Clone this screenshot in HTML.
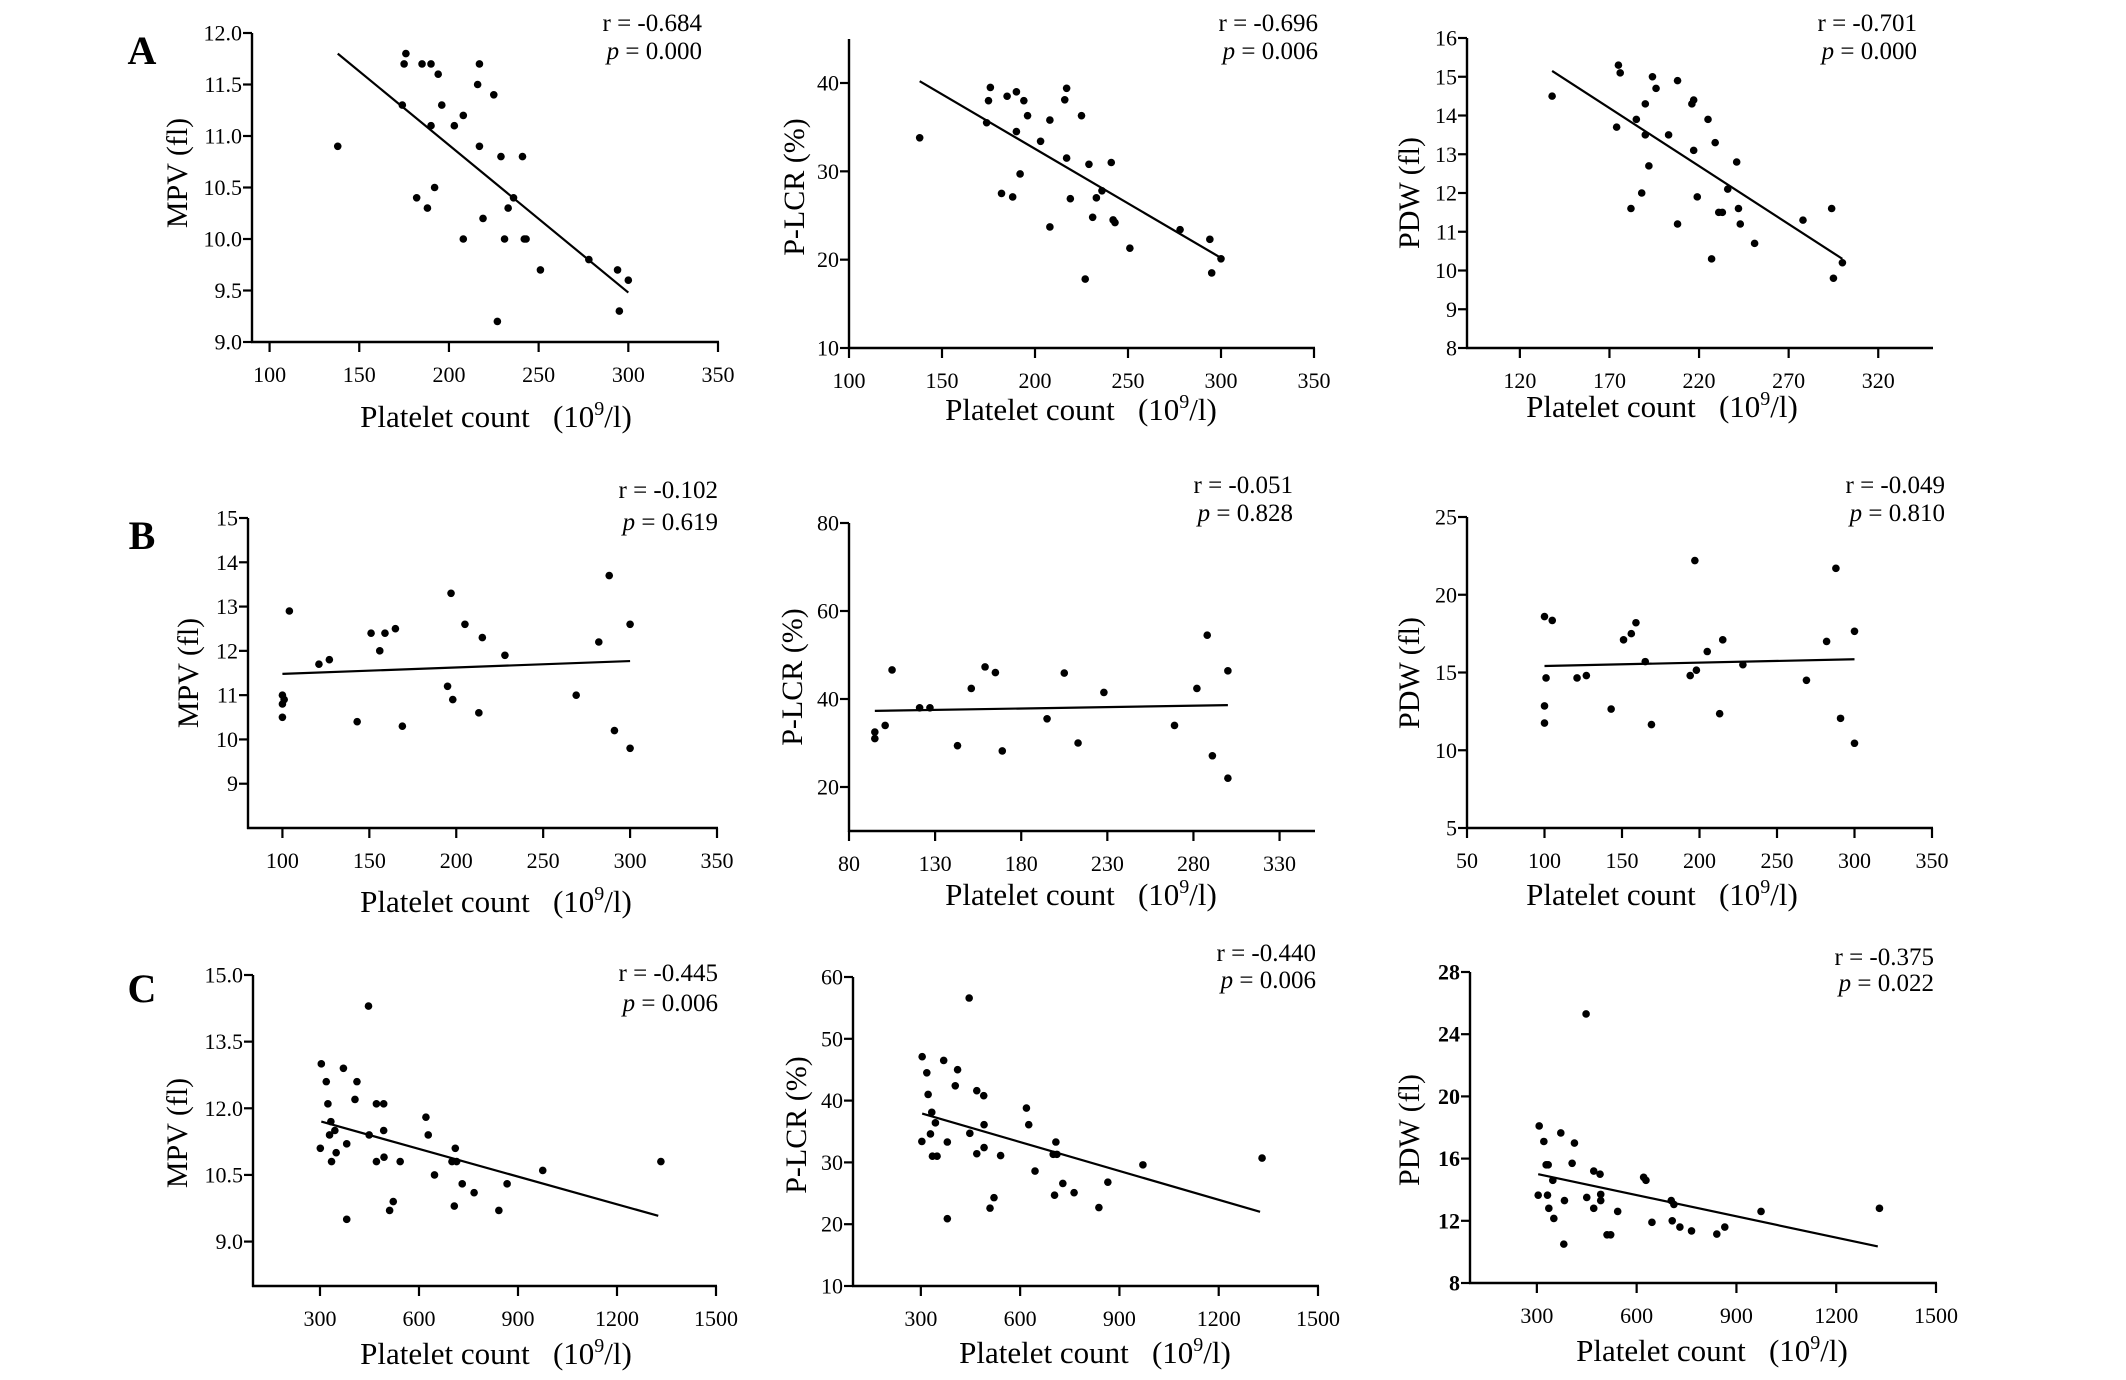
<!DOCTYPE html>
<html><head><meta charset="utf-8"><style>
html,body{margin:0;padding:0;background:#fff;}
svg{display:block;font-family:"Liberation Serif","Times New Roman",serif;}
</style></head><body>
<svg id="fig" width="2126" height="1380" viewBox="0 0 2126 1380" xmlns="http://www.w3.org/2000/svg">
<rect width="2126" height="1380" fill="#fff"/>
<text x="142" y="64" font-size="40" font-weight="bold" text-anchor="middle">A</text>
<text x="142" y="549" font-size="40" font-weight="bold" text-anchor="middle">B</text>
<text x="142" y="1002" font-size="40" font-weight="bold" text-anchor="middle">C</text>
</svg>
<script>
// ---- data ----
const a1X=[138,176,175,185,190,194,174,196,190,208,203,217,216,225,217,229,241,192,182,188,236,233,219,208,231,242,243,251,278,294,300,295,227];
const a1Y=[10.9,11.8,11.7,11.7,11.7,11.6,11.3,11.3,11.1,11.2,11.1,11.7,11.5,11.4,10.9,10.8,10.8,10.5,10.4,10.3,10.4,10.3,10.2,10.0,10.0,10.0,10.0,9.7,9.8,9.7,9.6,9.3,9.2];
const a1Fit=[138,11.8,300,9.48];
const a2X=[138,174,175,176,185,190,194,196,190,192,182,188,208,203,216,217,225,217,229,241,236,233,219,231,242,243,208,251,227,278,294,295,300];
const a2Y=[33.8,35.5,38.0,39.5,38.5,39.0,38.0,36.3,34.5,29.7,27.5,27.1,35.8,33.4,38.1,39.4,36.3,31.5,30.8,31.0,27.8,27.0,26.9,24.8,24.5,24.2,23.7,21.3,17.8,23.4,22.3,18.5,20.1];
const a2Fit=[138,40.2,300,20.2];
const a3X=[138,175,176,174,185,190,190,192,188,182,194,196,203,208,208,216,217,217,219,225,229,227,231,233,236,241,242,243,251,278,294,295,300];
const a3Y=[14.5,15.3,15.1,13.7,13.9,14.3,13.5,12.7,12.0,11.6,15.0,14.7,13.5,14.9,11.2,14.3,14.4,13.1,11.9,13.9,13.3,10.3,11.5,11.5,12.1,12.8,11.6,11.2,10.7,11.3,11.6,9.8,10.2];
const a3Fit=[138,15.15,300,10.3];
const b1X=[100,101,100,100,104,121,127,143,151,159,156,165,169,197,195,198,205,215,213,228,269,282,288,291,300,300];
const b1Y=[11.0,10.9,10.8,10.5,12.9,11.7,11.8,10.4,12.4,12.4,12.0,12.5,10.3,13.3,11.2,10.9,12.6,12.3,10.6,11.9,11.0,12.2,13.7,10.2,12.6,9.8];
const b1Fit=[100,11.48,300,11.77];
const b2X=[95,95,101,105,121,127,143,151,159,165,169,195,205,213,228,269,282,288,291,300,300];
const b2Y=[32.5,31.0,34.0,46.6,38.0,38.0,29.4,42.4,47.3,46.0,28.2,35.5,45.9,30.0,41.5,34.0,42.4,54.5,27.1,46.4,22.0];
const b2Fit=[95,37.3,300,38.6];
const b3X=[100,105,101,100,100,121,127,143,151,156,159,165,169,194,197,198,205,213,215,228,269,282,288,291,300,300];
const b3Y=[18.6,18.35,14.65,12.85,11.75,14.65,14.8,12.65,17.1,17.5,18.2,15.7,11.65,14.8,22.2,15.15,16.35,12.35,17.1,15.5,14.5,17.0,21.7,12.05,17.65,10.45];
const b3Fit=[100,15.42,300,15.85];
const c1X=[304,319,324,333,329,345,301,349,335,371,412,406,381,381,447,449,471,493,493,494,471,543,511,522,621,628,647,710,700,714,707,731,767,842,867,975,1333];
const c1Y=[13.0,12.6,12.1,11.7,11.4,11.5,11.1,11.0,10.8,12.9,12.6,12.2,11.2,9.5,14.3,11.4,12.1,12.1,11.5,10.9,10.8,10.8,9.7,9.9,11.8,11.4,10.5,11.1,10.8,10.8,9.8,10.3,10.1,9.7,10.3,10.6,10.8];
const c1Fit=[304,11.7,1325,9.58];
const c2X=[304,318,322,333,329,303,335,349,344,369,411,404,380,380,446,448,469,490,491,491,469,541,509,521,619,626,645,708,700,711,704,729,763,838,865,971,1331];
const c2Y=[47.1,44.5,41.0,38.1,34.6,33.4,31.0,31.0,36.4,46.5,45.0,42.4,33.3,20.9,56.6,34.7,41.6,40.8,36.1,32.4,31.4,31.1,22.6,24.3,38.8,36.1,28.6,33.3,31.3,31.3,24.7,26.6,25.1,22.7,26.8,29.6,30.7];
const c2Fit=[304,37.9,1325,22.0];
const c3X=[307,321,328,334,348,304,332,336,351,372,413,406,383,381,448,450,471,490,492,492,471,543,511,522,621,628,646,704,712,707,730,765,841,865,974,1330];
const c3Y=[18.1,17.1,15.6,15.6,14.6,13.65,13.65,12.8,12.15,17.65,17.0,15.7,13.3,10.5,25.3,13.5,15.2,15.0,13.7,13.3,12.8,12.6,11.1,11.1,14.8,14.6,11.9,13.3,13.05,12.0,11.6,11.35,11.15,11.6,12.6,12.8];
const c3Fit=[304,15.0,1325,10.35];
// tick label arrays
const xTicksA=[100,150,200,250,300,350];
const xTicksA3=[120,170,220,270,320];
const xTicksB2=[80,130,180,230,280,330];
const xTicksB3=[50,100,150,200,250,300,350];
const xTicksC=[300,600,900,1200,1500];
const yTicksA1=[9.0,9.5,10.0,10.5,11.0,11.5,12.0];
const yTicksA2=[10,20,30,40];
const yTicksA3=[8,9,10,11,12,13,14,15,16];
const yTicksB1=[9,10,11,12,13,14,15];
const yTicksB2=[20,40,60,80];
const yTicksB3=[5,10,15,20,25];
const yTicksC1=[9.0,10.5,12.0,13.5,15.0];
const yTicksC2=[10,20,30,40,50,60];
const yTicksC3=[8,12,16,20,24,28];
const rTexts=["r = -0.684","r = -0.696","r = -0.701","r = -0.102","r = -0.051","r = -0.049","r = -0.445","r = -0.440","r = -0.375"];
const pTexts=["0.000","0.006","0.000","0.619","0.828","0.810","0.006","0.006","0.022"];

const panels=[
 {id:'a1',xs:a1X,ys:a1Y,fit:a1Fit,xd:[90.2,350],yd:[9,12],px:[252,718],py:[342,33],xt:xTicksA,yt:yTicksA1,dec:1,yl:'MPV (fl)',ylx:177,yly:173,tx:496,ty:427,rx:702,ry:[31,59],top:33},
 {id:'a2',xs:a2X,ys:a2Y,fit:a2Fit,xd:[100,350],yd:[10,40],px:[849,1314],py:[348,83],xt:xTicksA,yt:yTicksA2,dec:0,yl:'P-LCR (%)',ylx:794,yly:187,tx:1081,ty:420,rx:1318,ry:[31,59],top:39},
 {id:'a3',xs:a3X,ys:a3Y,fit:a3Fit,xd:[90.5,350],yd:[8,16],px:[1467,1932],py:[348,38],xt:xTicksA3,yt:yTicksA3,dec:0,yl:'PDW (fl)',ylx:1409,yly:193,tx:1662,ty:417,rx:1917,ry:[31,59],top:38},
 {id:'b1',xs:b1X,ys:b1Y,fit:b1Fit,xd:[80.2,350],yd:[8,15],px:[248,717],py:[828,518],xt:xTicksA,yt:yTicksB1,dec:0,yl:'MPV (fl)',ylx:188,yly:673,tx:496,ty:912,rx:718,ry:[498,530],top:518},
 {id:'b2',xs:b2X,ys:b2Y,fit:b2Fit,xd:[80,350],yd:[10,80],px:[849,1314],py:[831,523],xt:xTicksB2,yt:yTicksB2,dec:0,yl:'P-LCR (%)',ylx:792,yly:677,tx:1081,ty:905,rx:1293,ry:[493,521],top:523},
 {id:'b3',xs:b3X,ys:b3Y,fit:b3Fit,xd:[50,350],yd:[5,25],px:[1467,1932],py:[828,517],xt:xTicksB3,yt:yTicksB3,dec:0,yl:'PDW (fl)',ylx:1409,yly:673,tx:1662,ty:905,rx:1945,ry:[493,521],top:517},
 {id:'c1',xs:c1X,ys:c1Y,fit:c1Fit,xd:[97,1500],yd:[8,15],px:[253,716],py:[1286,975],xt:xTicksC,yt:yTicksC1,dec:1,yl:'MPV (fl)',ylx:177,yly:1133,tx:496,ty:1364,rx:718,ry:[981,1011],top:975},
 {id:'c2',xs:c2X,ys:c2Y,fit:c2Fit,xd:[95,1500],yd:[10,60],px:[853,1318],py:[1286,977],xt:xTicksC,yt:yTicksC2,dec:0,yl:'P-LCR (%)',ylx:796,yly:1125,tx:1095,ty:1363,rx:1316,ry:[961,988],top:977},
 {id:'c3',xs:c3X,ys:c3Y,fit:c3Fit,xd:[99,1500],yd:[8,28],px:[1470,1936],py:[1283,972],xt:xTicksC,yt:yTicksC3,dec:0,bold:true,yl:'PDW (fl)',ylx:1409,yly:1130,tx:1712,ty:1361,rx:1934,ry:[965,991],top:972}
];
const NS='http://www.w3.org/2000/svg';
const svg=document.getElementById('fig');
function mk(tag,attrs,parent){const e=document.createElementNS(NS,tag);for(const k in attrs)e.setAttribute(k,attrs[k]);parent.appendChild(e);return e;}
panels.forEach((p,i)=>{
 const g=mk('g',{},svg);
 
 
 const sx=v=>p.px[0]+(v-p.xd[0])/(p.xd[1]-p.xd[0])*(p.px[1]-p.px[0]);
 const sy=v=>p.py[0]+(v-p.yd[0])/(p.yd[1]-p.yd[0])*(p.py[1]-p.py[0]);
 const ax=p.px[0], ay=p.py[0];
 const yAxis=mk('line',{x1:ax,y1:p.top,x2:ax,y2:ay+1,stroke:'#000','stroke-width':2.4},g);
 
 
 const xAxis=mk('line',{x1:ax-1,y1:ay,x2:p.px[1]+1,y2:ay,stroke:'#000','stroke-width':2.4},g);
 
 
 p.xt.forEach(v=>{
  const x=sx(v);
  mk('line',{x1:x,y1:ay,x2:x,y2:ay+10,stroke:'#000','stroke-width':2.2},g);
  const t=mk('text',{x:x,y:ay+40,'font-size':22,'text-anchor':'middle'},g);
  t.textContent=v;
  
  
 });
 p.yt.forEach(v=>{
  const y=sy(v);
  mk('line',{x1:ax-9,y1:y,x2:ax,y2:y,stroke:'#000','stroke-width':2.2},g);
  const t=mk('text',{x:ax-10,y:y+7.5,'font-size':22,'text-anchor':'end','font-weight':p.bold?'bold':'normal'},g);
  t.textContent=v.toFixed(p.dec);
  
  
 });
 const fl=mk('line',{x1:sx(p.fit[0]),y1:sy(p.fit[1]),x2:sx(p.fit[2]),y2:sy(p.fit[3]),stroke:'#000','stroke-width':2.2},g);
 
 
 p.xs.forEach((v,j)=>{
  const c=mk('circle',{cx:sx(v),cy:sy(p.ys[j]),r:3.8,fill:'#000'},g);
  
  
 });
 const yl=mk('text',{x:0,y:0,'font-size':30,'text-anchor':'middle',transform:`translate(${p.ylx+10},${p.yly}) rotate(-90)`},g);
 yl.textContent=p.yl;
 
 
 const tt=mk('text',{x:p.tx,y:p.ty,'font-size':31,'text-anchor':'middle'},g);
 
 
 tt.innerHTML='Platelet count\u00a0\u00a0\u00a0(10<tspan font-size="20" dy="-12">9</tspan><tspan dy="12">/l)</tspan>';
 const r=mk('text',{x:p.rx,y:p.ry[0],'font-size':25,'text-anchor':'end'},g);
 r.textContent=rTexts[i];
 
 
 const pv=mk('text',{x:p.rx,y:p.ry[1],'font-size':25,'text-anchor':'end'},g);
 pv.innerHTML='<tspan font-style="italic">p</tspan> = '+pTexts[i];
 
 
});
</script>
</body></html>
